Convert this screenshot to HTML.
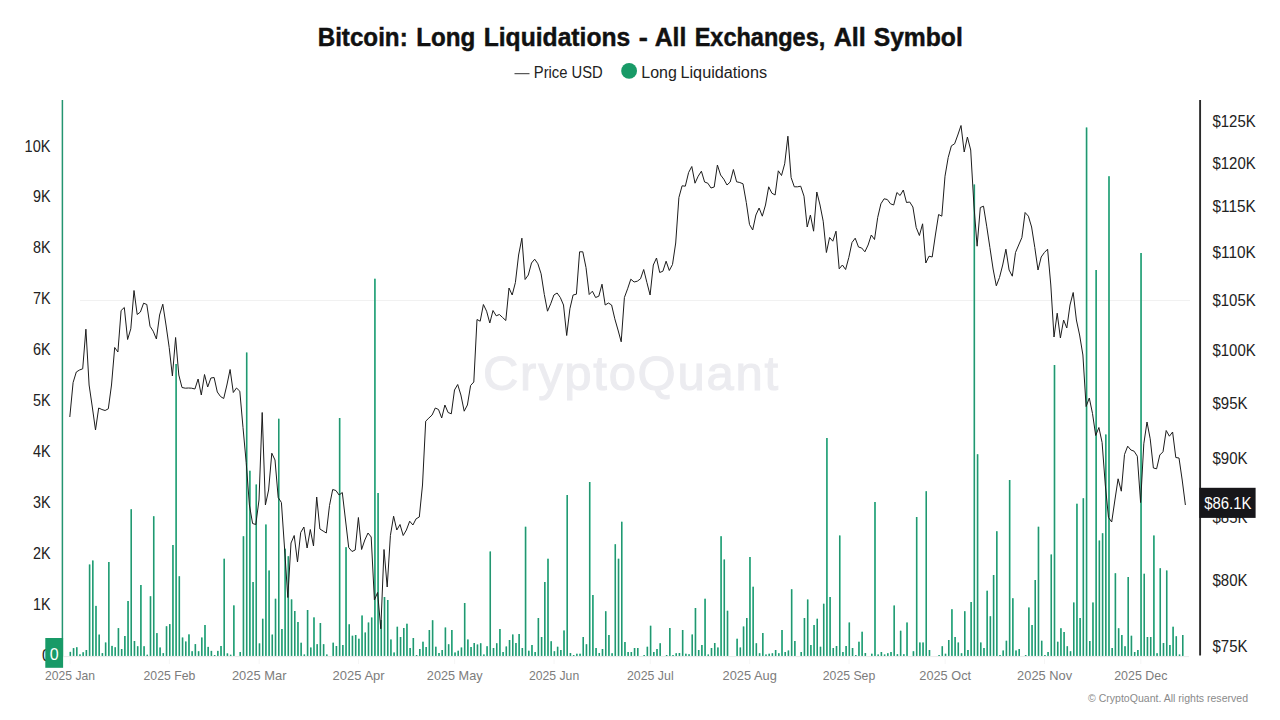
<!DOCTYPE html>
<html lang="en"><head><meta charset="utf-8"><title>Bitcoin: Long Liquidations - All Exchanges, All Symbol</title>
<style>
html,body{margin:0;padding:0;background:#fff;}
body{width:1280px;height:720px;overflow:hidden;font-family:"Liberation Sans",sans-serif;}
svg{display:block;font-family:"Liberation Sans",sans-serif;}
.ttl{font-weight:700;font-size:25.3px;fill:#111;stroke:#111;stroke-width:0.45px;}
.lg{font-size:16px;fill:#222;}
.yl{font-size:16px;fill:#222;}
.xl{font-size:13px;fill:#7c7c7c;}
.wm{font-size:49px;fill:#ececf0;stroke:#ececf0;stroke-width:1.1px;font-weight:400;}
.ft{font-size:11.2px;fill:#8a8a8a;}
</style></head><body>
<svg width="1280" height="720" viewBox="0 0 1280 720">
<rect width="1280" height="720" fill="#fff"/>
<text class="ttl" y="45.6"><tspan x="317.7" textLength="90.0" lengthAdjust="spacingAndGlyphs">Bitcoin:</tspan> <tspan x="416.2" textLength="59.1" lengthAdjust="spacingAndGlyphs">Long</tspan> <tspan x="483.7" textLength="146.6" lengthAdjust="spacingAndGlyphs">Liquidations</tspan> <tspan x="638.7" textLength="9.1" lengthAdjust="spacingAndGlyphs">-</tspan> <tspan x="654.7" textLength="31.6" lengthAdjust="spacingAndGlyphs">All</tspan> <tspan x="694.7" textLength="130.6" lengthAdjust="spacingAndGlyphs">Exchanges,</tspan> <tspan x="833.7" textLength="32.1" lengthAdjust="spacingAndGlyphs">All</tspan> <tspan x="873.7" textLength="89.1" lengthAdjust="spacingAndGlyphs">Symbol</tspan></text>
<line x1="514.5" y1="73.7" x2="529.5" y2="73.7" stroke="#333" stroke-width="1"/>
<text class="lg" x="533.8" y="77.5" textLength="69" lengthAdjust="spacingAndGlyphs">Price USD</text>
<circle cx="629.1" cy="70.9" r="7.9" fill="#189a67"/>
<text class="lg" y="77.5"><tspan x="641.3" textLength="35.5" lengthAdjust="spacingAndGlyphs">Long</tspan> <tspan x="680.5" textLength="86.5" lengthAdjust="spacingAndGlyphs">Liquidations</tspan></text>
<line x1="80" y1="300.5" x2="1190" y2="300.5" stroke="#f1f1f1" stroke-width="1"/>
<text class="wm" x="483" y="390" textLength="295" lengthAdjust="spacing">CryptoQuant</text>
<text class="yl" x="50.5" y="151.50" text-anchor="end" textLength="25.9" lengthAdjust="spacingAndGlyphs">10K</text>
<text class="yl" x="50.5" y="202.40" text-anchor="end" textLength="17.6" lengthAdjust="spacingAndGlyphs">9K</text>
<text class="yl" x="50.5" y="253.40" text-anchor="end" textLength="17.6" lengthAdjust="spacingAndGlyphs">8K</text>
<text class="yl" x="50.5" y="304.30" text-anchor="end" textLength="17.6" lengthAdjust="spacingAndGlyphs">7K</text>
<text class="yl" x="50.5" y="355.20" text-anchor="end" textLength="17.6" lengthAdjust="spacingAndGlyphs">6K</text>
<text class="yl" x="50.5" y="406.20" text-anchor="end" textLength="17.6" lengthAdjust="spacingAndGlyphs">5K</text>
<text class="yl" x="50.5" y="457.10" text-anchor="end" textLength="17.6" lengthAdjust="spacingAndGlyphs">4K</text>
<text class="yl" x="50.5" y="508.00" text-anchor="end" textLength="17.6" lengthAdjust="spacingAndGlyphs">3K</text>
<text class="yl" x="50.5" y="559.00" text-anchor="end" textLength="17.6" lengthAdjust="spacingAndGlyphs">2K</text>
<text class="yl" x="50.5" y="609.90" text-anchor="end" textLength="17.6" lengthAdjust="spacingAndGlyphs">1K</text>
<text class="yl" x="50.5" y="660.80" text-anchor="end" textLength="8.4" lengthAdjust="spacingAndGlyphs">0</text>
<text class="yl" x="1212.5" y="126.50" textLength="43.2" lengthAdjust="spacingAndGlyphs">$125K</text>
<text class="yl" x="1212.5" y="168.90" textLength="43.2" lengthAdjust="spacingAndGlyphs">$120K</text>
<text class="yl" x="1212.5" y="211.90" textLength="43.2" lengthAdjust="spacingAndGlyphs">$115K</text>
<text class="yl" x="1212.5" y="257.90" textLength="43.2" lengthAdjust="spacingAndGlyphs">$110K</text>
<text class="yl" x="1212.5" y="305.90" textLength="43.2" lengthAdjust="spacingAndGlyphs">$105K</text>
<text class="yl" x="1212.5" y="355.90" textLength="43.2" lengthAdjust="spacingAndGlyphs">$100K</text>
<text class="yl" x="1212.5" y="408.90" textLength="35.0" lengthAdjust="spacingAndGlyphs">$95K</text>
<text class="yl" x="1212.5" y="463.90" textLength="35.0" lengthAdjust="spacingAndGlyphs">$90K</text>
<text class="yl" x="1212.5" y="523.30" textLength="35.0" lengthAdjust="spacingAndGlyphs">$85K</text>
<text class="yl" x="1212.5" y="585.90" textLength="35.0" lengthAdjust="spacingAndGlyphs">$80K</text>
<text class="yl" x="1212.5" y="651.90" textLength="35.0" lengthAdjust="spacingAndGlyphs">$75K</text>
<line x1="70.0" y1="658.5" x2="70.0" y2="664" stroke="#f6f6f6" stroke-width="1"/><text class="xl" x="70.0" y="680" text-anchor="middle" textLength="50.0" lengthAdjust="spacingAndGlyphs">2025 Jan</text>
<line x1="169.4" y1="658.5" x2="169.4" y2="664" stroke="#f6f6f6" stroke-width="1"/><text class="xl" x="169.4" y="680" text-anchor="middle" textLength="51.7" lengthAdjust="spacingAndGlyphs">2025 Feb</text>
<line x1="259.2" y1="658.5" x2="259.2" y2="664" stroke="#f6f6f6" stroke-width="1"/><text class="xl" x="259.2" y="680" text-anchor="middle" textLength="54.5" lengthAdjust="spacingAndGlyphs">2025 Mar</text>
<line x1="358.6" y1="658.5" x2="358.6" y2="664" stroke="#f6f6f6" stroke-width="1"/><text class="xl" x="358.6" y="680" text-anchor="middle" textLength="52.0" lengthAdjust="spacingAndGlyphs">2025 Apr</text>
<line x1="454.7" y1="658.5" x2="454.7" y2="664" stroke="#f6f6f6" stroke-width="1"/><text class="xl" x="454.7" y="680" text-anchor="middle" textLength="55.7" lengthAdjust="spacingAndGlyphs">2025 May</text>
<line x1="554.1" y1="658.5" x2="554.1" y2="664" stroke="#f6f6f6" stroke-width="1"/><text class="xl" x="554.1" y="680" text-anchor="middle" textLength="50.2" lengthAdjust="spacingAndGlyphs">2025 Jun</text>
<line x1="650.3" y1="658.5" x2="650.3" y2="664" stroke="#f6f6f6" stroke-width="1"/><text class="xl" x="650.3" y="680" text-anchor="middle" textLength="46.7" lengthAdjust="spacingAndGlyphs">2025 Jul</text>
<line x1="749.7" y1="658.5" x2="749.7" y2="664" stroke="#f6f6f6" stroke-width="1"/><text class="xl" x="749.7" y="680" text-anchor="middle" textLength="54.2" lengthAdjust="spacingAndGlyphs">2025 Aug</text>
<line x1="849.0" y1="658.5" x2="849.0" y2="664" stroke="#f6f6f6" stroke-width="1"/><text class="xl" x="849.0" y="680" text-anchor="middle" textLength="52.5" lengthAdjust="spacingAndGlyphs">2025 Sep</text>
<line x1="945.2" y1="658.5" x2="945.2" y2="664" stroke="#f6f6f6" stroke-width="1"/><text class="xl" x="945.2" y="680" text-anchor="middle" textLength="51.7" lengthAdjust="spacingAndGlyphs">2025 Oct</text>
<line x1="1044.6" y1="658.5" x2="1044.6" y2="664" stroke="#f6f6f6" stroke-width="1"/><text class="xl" x="1044.6" y="680" text-anchor="middle" textLength="55.0" lengthAdjust="spacingAndGlyphs">2025 Nov</text>
<line x1="1140.8" y1="658.5" x2="1140.8" y2="664" stroke="#f6f6f6" stroke-width="1"/><text class="xl" x="1140.8" y="680" text-anchor="middle" textLength="53.2" lengthAdjust="spacingAndGlyphs">2025 Dec</text>
<defs><filter id="hb" x="0" y="0" width="1280" height="720" filterUnits="userSpaceOnUse"><feGaussianBlur stdDeviation="0.65 0.4"/></filter></defs>
<g fill="#66ecbe" filter="url(#hb)">
<rect x="69.62" y="651.90" width="1.45" height="4.00"/><rect x="72.83" y="648.10" width="1.45" height="7.80"/><rect x="76.04" y="647.25" width="1.45" height="8.65"/><rect x="79.24" y="654.40" width="1.45" height="1.50"/><rect x="82.45" y="652.25" width="1.45" height="3.65"/><rect x="85.65" y="650.00" width="1.45" height="5.90"/><rect x="88.86" y="564.50" width="1.45" height="91.40"/><rect x="92.06" y="560.50" width="1.45" height="95.40"/><rect x="95.27" y="605.90" width="1.45" height="50.00"/><rect x="98.48" y="634.60" width="1.45" height="21.30"/><rect x="101.68" y="653.10" width="1.45" height="2.80"/><rect x="104.89" y="642.50" width="1.45" height="13.40"/><rect x="108.09" y="562.00" width="1.45" height="93.90"/><rect x="111.30" y="645.90" width="1.45" height="10.00"/><rect x="114.50" y="647.25" width="1.45" height="8.65"/><rect x="117.71" y="628.10" width="1.45" height="27.80"/><rect x="120.92" y="649.00" width="1.45" height="6.90"/><rect x="124.12" y="636.00" width="1.45" height="19.90"/><rect x="127.33" y="601.00" width="1.45" height="54.90"/><rect x="130.53" y="509.25" width="1.45" height="146.65"/><rect x="133.74" y="641.00" width="1.45" height="14.90"/><rect x="136.94" y="646.25" width="1.45" height="9.65"/><rect x="140.15" y="585.00" width="1.45" height="70.90"/><rect x="143.36" y="646.25" width="1.45" height="9.65"/><rect x="146.56" y="654.75" width="1.45" height="1.15"/><rect x="149.77" y="596.25" width="1.45" height="59.65"/><rect x="152.97" y="516.25" width="1.45" height="139.65"/><rect x="156.18" y="633.10" width="1.45" height="22.80"/><rect x="159.38" y="647.50" width="1.45" height="8.40"/><rect x="162.59" y="653.10" width="1.45" height="2.80"/><rect x="165.80" y="626.25" width="1.45" height="29.65"/><rect x="169.00" y="624.10" width="1.45" height="31.80"/><rect x="172.21" y="545.00" width="1.45" height="110.90"/><rect x="175.41" y="364.00" width="1.45" height="291.90"/><rect x="178.62" y="576.25" width="1.45" height="79.65"/><rect x="181.82" y="637.50" width="1.45" height="18.40"/><rect x="185.03" y="641.50" width="1.45" height="14.40"/><rect x="188.24" y="634.40" width="1.45" height="21.50"/><rect x="191.44" y="651.25" width="1.45" height="4.65"/><rect x="194.65" y="644.10" width="1.45" height="11.80"/><rect x="197.85" y="651.25" width="1.45" height="4.65"/><rect x="201.06" y="637.50" width="1.45" height="18.40"/><rect x="204.26" y="625.00" width="1.45" height="30.90"/><rect x="207.47" y="646.90" width="1.45" height="9.00"/><rect x="210.68" y="650.90" width="1.45" height="5.00"/><rect x="213.88" y="655.00" width="1.45" height="0.90"/><rect x="217.09" y="650.90" width="1.45" height="5.00"/><rect x="220.29" y="646.00" width="1.45" height="9.90"/><rect x="223.50" y="558.75" width="1.45" height="97.15"/><rect x="226.70" y="653.40" width="1.45" height="2.50"/><rect x="229.91" y="654.75" width="1.45" height="1.15"/><rect x="233.12" y="605.40" width="1.45" height="50.50"/><rect x="239.53" y="652.00" width="1.45" height="3.90"/><rect x="242.73" y="536.25" width="1.45" height="119.65"/><rect x="245.94" y="352.50" width="1.45" height="303.40"/><rect x="249.14" y="470.75" width="1.45" height="185.15"/><rect x="252.35" y="582.00" width="1.45" height="73.90"/><rect x="255.56" y="484.50" width="1.45" height="171.40"/><rect x="258.76" y="643.40" width="1.45" height="12.50"/><rect x="261.97" y="618.75" width="1.45" height="37.15"/><rect x="265.17" y="524.50" width="1.45" height="131.40"/><rect x="268.38" y="570.50" width="1.45" height="85.40"/><rect x="271.58" y="634.60" width="1.45" height="21.30"/><rect x="274.79" y="598.75" width="1.45" height="57.15"/><rect x="278.00" y="418.75" width="1.45" height="237.15"/><rect x="281.20" y="629.00" width="1.45" height="26.90"/><rect x="284.41" y="548.75" width="1.45" height="107.15"/><rect x="287.61" y="556.25" width="1.45" height="99.65"/><rect x="290.82" y="599.40" width="1.45" height="56.50"/><rect x="294.02" y="611.00" width="1.45" height="44.90"/><rect x="297.23" y="622.00" width="1.45" height="33.90"/><rect x="300.44" y="642.75" width="1.45" height="13.15"/><rect x="303.64" y="654.50" width="1.45" height="1.40"/><rect x="306.85" y="610.00" width="1.45" height="45.90"/><rect x="310.05" y="647.50" width="1.45" height="8.40"/><rect x="313.26" y="617.40" width="1.45" height="38.50"/><rect x="316.46" y="644.20" width="1.45" height="11.70"/><rect x="319.67" y="623.00" width="1.45" height="32.90"/><rect x="322.88" y="644.20" width="1.45" height="11.70"/><rect x="326.08" y="654.50" width="1.45" height="1.40"/><rect x="332.49" y="642.70" width="1.45" height="13.20"/><rect x="335.70" y="646.00" width="1.45" height="9.90"/><rect x="338.90" y="418.00" width="1.45" height="237.90"/><rect x="342.11" y="645.00" width="1.45" height="10.90"/><rect x="345.32" y="547.20" width="1.45" height="108.70"/><rect x="348.52" y="624.30" width="1.45" height="31.60"/><rect x="351.73" y="635.75" width="1.45" height="20.15"/><rect x="354.93" y="635.00" width="1.45" height="20.90"/><rect x="358.14" y="638.75" width="1.45" height="17.15"/><rect x="361.34" y="615.50" width="1.45" height="40.40"/><rect x="364.55" y="632.50" width="1.45" height="23.40"/><rect x="367.76" y="622.50" width="1.45" height="33.40"/><rect x="370.96" y="617.50" width="1.45" height="38.40"/><rect x="374.17" y="278.75" width="1.45" height="377.15"/><rect x="377.37" y="493.00" width="1.45" height="162.90"/><rect x="380.58" y="620.00" width="1.45" height="35.90"/><rect x="383.78" y="597.00" width="1.45" height="58.90"/><rect x="386.99" y="600.00" width="1.45" height="55.90"/><rect x="390.20" y="639.50" width="1.45" height="16.40"/><rect x="393.40" y="652.50" width="1.45" height="3.40"/><rect x="396.61" y="626.75" width="1.45" height="29.15"/><rect x="399.81" y="637.00" width="1.45" height="18.90"/><rect x="403.02" y="628.00" width="1.45" height="27.90"/><rect x="406.22" y="623.75" width="1.45" height="32.15"/><rect x="409.43" y="648.00" width="1.45" height="7.90"/><rect x="412.63" y="638.00" width="1.45" height="17.90"/><rect x="415.84" y="655.00" width="1.45" height="0.90"/><rect x="419.05" y="649.00" width="1.45" height="6.90"/><rect x="422.25" y="641.75" width="1.45" height="14.15"/><rect x="425.46" y="647.00" width="1.45" height="8.90"/><rect x="428.66" y="630.00" width="1.45" height="25.90"/><rect x="431.87" y="620.25" width="1.45" height="35.65"/><rect x="435.07" y="646.75" width="1.45" height="9.15"/><rect x="438.28" y="653.00" width="1.45" height="2.90"/><rect x="441.49" y="650.00" width="1.45" height="5.90"/><rect x="444.69" y="627.50" width="1.45" height="28.40"/><rect x="447.90" y="644.25" width="1.45" height="11.65"/><rect x="451.10" y="630.00" width="1.45" height="25.90"/><rect x="454.31" y="652.50" width="1.45" height="3.40"/><rect x="457.51" y="650.75" width="1.45" height="5.15"/><rect x="460.72" y="647.50" width="1.45" height="8.40"/><rect x="463.93" y="603.00" width="1.45" height="52.90"/><rect x="467.13" y="639.50" width="1.45" height="16.40"/><rect x="470.34" y="647.00" width="1.45" height="8.90"/><rect x="473.54" y="643.00" width="1.45" height="12.90"/><rect x="476.75" y="644.50" width="1.45" height="11.40"/><rect x="479.95" y="643.25" width="1.45" height="12.65"/><rect x="483.16" y="654.50" width="1.45" height="1.40"/><rect x="486.37" y="646.25" width="1.45" height="9.65"/><rect x="489.57" y="551.50" width="1.45" height="104.40"/><rect x="492.78" y="648.00" width="1.45" height="7.90"/><rect x="495.98" y="643.25" width="1.45" height="12.65"/><rect x="499.19" y="629.00" width="1.45" height="26.90"/><rect x="502.39" y="652.00" width="1.45" height="3.90"/><rect x="505.60" y="646.50" width="1.45" height="9.40"/><rect x="508.81" y="640.00" width="1.45" height="15.90"/><rect x="512.01" y="634.50" width="1.45" height="21.40"/><rect x="515.22" y="643.00" width="1.45" height="12.90"/><rect x="518.42" y="634.00" width="1.45" height="21.90"/><rect x="521.63" y="648.00" width="1.45" height="7.90"/><rect x="524.83" y="526.75" width="1.45" height="129.15"/><rect x="528.04" y="650.75" width="1.45" height="5.15"/><rect x="531.25" y="645.00" width="1.45" height="10.90"/><rect x="534.45" y="652.00" width="1.45" height="3.90"/><rect x="537.66" y="618.00" width="1.45" height="37.90"/><rect x="540.86" y="637.00" width="1.45" height="18.90"/><rect x="544.07" y="582.00" width="1.45" height="73.90"/><rect x="547.27" y="558.75" width="1.45" height="97.15"/><rect x="550.48" y="641.25" width="1.45" height="14.65"/><rect x="553.69" y="651.25" width="1.45" height="4.65"/><rect x="556.89" y="646.75" width="1.45" height="9.15"/><rect x="560.10" y="650.00" width="1.45" height="5.90"/><rect x="563.30" y="630.50" width="1.45" height="25.40"/><rect x="566.51" y="495.00" width="1.45" height="160.90"/><rect x="569.71" y="653.00" width="1.45" height="2.90"/><rect x="572.92" y="655.00" width="1.45" height="0.90"/><rect x="576.13" y="653.75" width="1.45" height="2.15"/><rect x="579.33" y="653.75" width="1.45" height="2.15"/><rect x="582.54" y="637.00" width="1.45" height="18.90"/><rect x="585.74" y="644.25" width="1.45" height="11.65"/><rect x="588.95" y="482.00" width="1.45" height="173.90"/><rect x="592.15" y="595.00" width="1.45" height="60.90"/><rect x="595.36" y="648.00" width="1.45" height="7.90"/><rect x="598.57" y="653.00" width="1.45" height="2.90"/><rect x="601.77" y="649.00" width="1.45" height="6.90"/><rect x="604.98" y="611.25" width="1.45" height="44.65"/><rect x="608.18" y="635.00" width="1.45" height="20.90"/><rect x="611.39" y="653.25" width="1.45" height="2.65"/><rect x="614.59" y="544.25" width="1.45" height="111.65"/><rect x="617.80" y="558.75" width="1.45" height="97.15"/><rect x="621.01" y="521.75" width="1.45" height="134.15"/><rect x="624.21" y="642.00" width="1.45" height="13.90"/><rect x="627.42" y="652.00" width="1.45" height="3.90"/><rect x="630.62" y="652.00" width="1.45" height="3.90"/><rect x="633.83" y="648.00" width="1.45" height="7.90"/><rect x="637.03" y="648.00" width="1.45" height="7.90"/><rect x="643.45" y="655.00" width="1.45" height="0.90"/><rect x="646.65" y="646.75" width="1.45" height="9.15"/><rect x="649.86" y="625.75" width="1.45" height="30.15"/><rect x="653.06" y="652.00" width="1.45" height="3.90"/><rect x="656.27" y="649.00" width="1.45" height="6.90"/><rect x="659.47" y="643.25" width="1.45" height="12.65"/><rect x="665.89" y="655.00" width="1.45" height="0.90"/><rect x="669.09" y="628.00" width="1.45" height="27.90"/><rect x="672.30" y="655.00" width="1.45" height="0.90"/><rect x="675.50" y="653.25" width="1.45" height="2.65"/><rect x="678.71" y="653.00" width="1.45" height="2.90"/><rect x="681.91" y="630.00" width="1.45" height="25.90"/><rect x="685.12" y="653.75" width="1.45" height="2.15"/><rect x="688.33" y="654.25" width="1.45" height="1.65"/><rect x="691.53" y="634.50" width="1.45" height="21.40"/><rect x="694.74" y="608.00" width="1.45" height="47.90"/><rect x="697.94" y="650.00" width="1.45" height="5.90"/><rect x="701.15" y="645.00" width="1.45" height="10.90"/><rect x="704.35" y="598.75" width="1.45" height="57.15"/><rect x="707.56" y="654.50" width="1.45" height="1.40"/><rect x="710.77" y="648.00" width="1.45" height="7.90"/><rect x="713.97" y="643.00" width="1.45" height="12.90"/><rect x="717.18" y="647.50" width="1.45" height="8.40"/><rect x="720.38" y="536.25" width="1.45" height="119.65"/><rect x="723.59" y="559.50" width="1.45" height="96.40"/><rect x="726.79" y="610.75" width="1.45" height="45.15"/><rect x="736.41" y="638.75" width="1.45" height="17.15"/><rect x="739.62" y="647.50" width="1.45" height="8.40"/><rect x="742.82" y="626.50" width="1.45" height="29.40"/><rect x="746.03" y="618.00" width="1.45" height="37.90"/><rect x="749.23" y="557.00" width="1.45" height="98.90"/><rect x="752.44" y="586.75" width="1.45" height="69.15"/><rect x="755.64" y="643.25" width="1.45" height="12.65"/><rect x="758.85" y="653.25" width="1.45" height="2.65"/><rect x="762.06" y="633.00" width="1.45" height="22.90"/><rect x="765.26" y="654.50" width="1.45" height="1.40"/><rect x="768.47" y="653.75" width="1.45" height="2.15"/><rect x="771.67" y="653.25" width="1.45" height="2.65"/><rect x="774.88" y="650.00" width="1.45" height="5.90"/><rect x="778.08" y="653.25" width="1.45" height="2.65"/><rect x="781.29" y="630.00" width="1.45" height="25.90"/><rect x="784.50" y="652.00" width="1.45" height="3.90"/><rect x="787.70" y="650.50" width="1.45" height="5.40"/><rect x="790.91" y="589.25" width="1.45" height="66.65"/><rect x="794.11" y="641.00" width="1.45" height="14.90"/><rect x="800.52" y="652.00" width="1.45" height="3.90"/><rect x="803.73" y="618.00" width="1.45" height="37.90"/><rect x="806.94" y="599.50" width="1.45" height="56.40"/><rect x="810.14" y="645.00" width="1.45" height="10.90"/><rect x="813.35" y="625.00" width="1.45" height="30.90"/><rect x="816.55" y="618.75" width="1.45" height="37.15"/><rect x="819.76" y="646.75" width="1.45" height="9.15"/><rect x="822.96" y="603.75" width="1.45" height="52.15"/><rect x="826.17" y="438.00" width="1.45" height="217.90"/><rect x="829.38" y="597.00" width="1.45" height="58.90"/><rect x="832.58" y="648.00" width="1.45" height="7.90"/><rect x="835.79" y="646.00" width="1.45" height="9.90"/><rect x="838.99" y="535.50" width="1.45" height="120.40"/><rect x="842.20" y="652.00" width="1.45" height="3.90"/><rect x="845.40" y="646.00" width="1.45" height="9.90"/><rect x="848.61" y="622.50" width="1.45" height="33.40"/><rect x="851.82" y="648.00" width="1.45" height="7.90"/><rect x="855.02" y="655.00" width="1.45" height="0.90"/><rect x="858.23" y="641.75" width="1.45" height="14.15"/><rect x="861.43" y="631.75" width="1.45" height="24.15"/><rect x="864.64" y="653.00" width="1.45" height="2.90"/><rect x="871.05" y="653.75" width="1.45" height="2.15"/><rect x="874.26" y="502.00" width="1.45" height="153.90"/><rect x="877.46" y="654.50" width="1.45" height="1.40"/><rect x="880.67" y="652.00" width="1.45" height="3.90"/><rect x="883.87" y="654.50" width="1.45" height="1.40"/><rect x="887.08" y="653.25" width="1.45" height="2.65"/><rect x="890.28" y="652.00" width="1.45" height="3.90"/><rect x="893.49" y="605.50" width="1.45" height="50.40"/><rect x="896.70" y="654.25" width="1.45" height="1.65"/><rect x="899.90" y="630.75" width="1.45" height="25.15"/><rect x="903.11" y="654.25" width="1.45" height="1.65"/><rect x="906.31" y="622.50" width="1.45" height="33.40"/><rect x="912.72" y="651.25" width="1.45" height="4.65"/><rect x="915.93" y="517.00" width="1.45" height="138.90"/><rect x="919.14" y="642.50" width="1.45" height="13.40"/><rect x="922.34" y="642.50" width="1.45" height="13.40"/><rect x="925.55" y="491.25" width="1.45" height="164.65"/><rect x="928.75" y="650.00" width="1.45" height="5.90"/><rect x="938.37" y="655.00" width="1.45" height="0.90"/><rect x="941.58" y="646.25" width="1.45" height="9.65"/><rect x="944.78" y="653.75" width="1.45" height="2.15"/><rect x="947.99" y="640.00" width="1.45" height="15.90"/><rect x="951.19" y="609.25" width="1.45" height="46.65"/><rect x="954.40" y="637.00" width="1.45" height="18.90"/><rect x="957.60" y="642.50" width="1.45" height="13.40"/><rect x="960.81" y="653.25" width="1.45" height="2.65"/><rect x="964.02" y="611.25" width="1.45" height="44.65"/><rect x="967.22" y="650.00" width="1.45" height="5.90"/><rect x="970.43" y="602.00" width="1.45" height="53.90"/><rect x="973.63" y="184.50" width="1.45" height="471.40"/><rect x="976.84" y="454.25" width="1.45" height="201.65"/><rect x="980.04" y="642.50" width="1.45" height="13.40"/><rect x="983.25" y="648.00" width="1.45" height="7.90"/><rect x="986.46" y="590.75" width="1.45" height="65.15"/><rect x="989.66" y="616.25" width="1.45" height="39.65"/><rect x="992.87" y="575.00" width="1.45" height="80.90"/><rect x="996.07" y="531.25" width="1.45" height="124.65"/><rect x="999.28" y="655.00" width="1.45" height="0.90"/><rect x="1002.48" y="650.50" width="1.45" height="5.40"/><rect x="1005.69" y="640.75" width="1.45" height="15.15"/><rect x="1008.90" y="480.00" width="1.45" height="175.90"/><rect x="1012.10" y="598.25" width="1.45" height="57.65"/><rect x="1015.31" y="650.50" width="1.45" height="5.40"/><rect x="1018.51" y="649.00" width="1.45" height="6.90"/><rect x="1024.92" y="655.00" width="1.45" height="0.90"/><rect x="1028.13" y="607.50" width="1.45" height="48.40"/><rect x="1031.34" y="625.00" width="1.45" height="30.90"/><rect x="1034.54" y="580.00" width="1.45" height="75.90"/><rect x="1037.75" y="526.75" width="1.45" height="129.15"/><rect x="1040.95" y="640.75" width="1.45" height="15.15"/><rect x="1044.16" y="655.00" width="1.45" height="0.90"/><rect x="1047.36" y="652.00" width="1.45" height="3.90"/><rect x="1050.57" y="554.50" width="1.45" height="101.40"/><rect x="1053.77" y="365.00" width="1.45" height="290.90"/><rect x="1056.98" y="641.75" width="1.45" height="14.15"/><rect x="1060.19" y="628.25" width="1.45" height="27.65"/><rect x="1063.39" y="632.00" width="1.45" height="23.90"/><rect x="1066.60" y="646.25" width="1.45" height="9.65"/><rect x="1069.80" y="651.25" width="1.45" height="4.65"/><rect x="1073.01" y="602.50" width="1.45" height="53.40"/><rect x="1076.21" y="503.75" width="1.45" height="152.15"/><rect x="1079.42" y="618.00" width="1.45" height="37.90"/><rect x="1082.63" y="498.25" width="1.45" height="157.65"/><rect x="1085.83" y="127.50" width="1.45" height="528.40"/><rect x="1089.04" y="641.00" width="1.45" height="14.90"/><rect x="1092.24" y="602.50" width="1.45" height="53.40"/><rect x="1095.45" y="270.00" width="1.45" height="385.90"/><rect x="1098.65" y="540.50" width="1.45" height="115.40"/><rect x="1101.86" y="533.25" width="1.45" height="122.65"/><rect x="1105.07" y="434.50" width="1.45" height="221.40"/><rect x="1108.27" y="176.25" width="1.45" height="479.65"/><rect x="1111.48" y="648.00" width="1.45" height="7.90"/><rect x="1114.68" y="573.25" width="1.45" height="82.65"/><rect x="1117.89" y="628.25" width="1.45" height="27.65"/><rect x="1121.09" y="635.00" width="1.45" height="20.90"/><rect x="1124.30" y="646.25" width="1.45" height="9.65"/><rect x="1127.51" y="577.00" width="1.45" height="78.90"/><rect x="1130.71" y="635.75" width="1.45" height="20.15"/><rect x="1133.92" y="652.00" width="1.45" height="3.90"/><rect x="1137.12" y="650.00" width="1.45" height="5.90"/><rect x="1140.33" y="253.00" width="1.45" height="402.90"/><rect x="1143.53" y="573.75" width="1.45" height="82.15"/><rect x="1146.74" y="637.00" width="1.45" height="18.90"/><rect x="1149.95" y="637.00" width="1.45" height="18.90"/><rect x="1153.15" y="535.50" width="1.45" height="120.40"/><rect x="1156.36" y="653.25" width="1.45" height="2.65"/><rect x="1159.56" y="568.25" width="1.45" height="87.65"/><rect x="1162.77" y="643.00" width="1.45" height="12.90"/><rect x="1165.97" y="570.50" width="1.45" height="85.40"/><rect x="1169.18" y="645.00" width="1.45" height="10.90"/><rect x="1172.39" y="626.75" width="1.45" height="29.15"/><rect x="1175.59" y="636.25" width="1.45" height="19.65"/><rect x="1178.80" y="654.50" width="1.45" height="1.40"/><rect x="1182.00" y="635.00" width="1.45" height="20.90"/>
</g>
<g fill="#249570">
<rect x="69.62" y="651.90" width="1.45" height="4.00"/><rect x="72.83" y="648.10" width="1.45" height="7.80"/><rect x="76.04" y="647.25" width="1.45" height="8.65"/><rect x="79.24" y="654.40" width="1.45" height="1.50"/><rect x="82.45" y="652.25" width="1.45" height="3.65"/><rect x="85.65" y="650.00" width="1.45" height="5.90"/><rect x="88.86" y="564.50" width="1.45" height="91.40"/><rect x="92.06" y="560.50" width="1.45" height="95.40"/><rect x="95.27" y="605.90" width="1.45" height="50.00"/><rect x="98.48" y="634.60" width="1.45" height="21.30"/><rect x="101.68" y="653.10" width="1.45" height="2.80"/><rect x="104.89" y="642.50" width="1.45" height="13.40"/><rect x="108.09" y="562.00" width="1.45" height="93.90"/><rect x="111.30" y="645.90" width="1.45" height="10.00"/><rect x="114.50" y="647.25" width="1.45" height="8.65"/><rect x="117.71" y="628.10" width="1.45" height="27.80"/><rect x="120.92" y="649.00" width="1.45" height="6.90"/><rect x="124.12" y="636.00" width="1.45" height="19.90"/><rect x="127.33" y="601.00" width="1.45" height="54.90"/><rect x="130.53" y="509.25" width="1.45" height="146.65"/><rect x="133.74" y="641.00" width="1.45" height="14.90"/><rect x="136.94" y="646.25" width="1.45" height="9.65"/><rect x="140.15" y="585.00" width="1.45" height="70.90"/><rect x="143.36" y="646.25" width="1.45" height="9.65"/><rect x="146.56" y="654.75" width="1.45" height="1.15"/><rect x="149.77" y="596.25" width="1.45" height="59.65"/><rect x="152.97" y="516.25" width="1.45" height="139.65"/><rect x="156.18" y="633.10" width="1.45" height="22.80"/><rect x="159.38" y="647.50" width="1.45" height="8.40"/><rect x="162.59" y="653.10" width="1.45" height="2.80"/><rect x="165.80" y="626.25" width="1.45" height="29.65"/><rect x="169.00" y="624.10" width="1.45" height="31.80"/><rect x="172.21" y="545.00" width="1.45" height="110.90"/><rect x="175.41" y="364.00" width="1.45" height="291.90"/><rect x="178.62" y="576.25" width="1.45" height="79.65"/><rect x="181.82" y="637.50" width="1.45" height="18.40"/><rect x="185.03" y="641.50" width="1.45" height="14.40"/><rect x="188.24" y="634.40" width="1.45" height="21.50"/><rect x="191.44" y="651.25" width="1.45" height="4.65"/><rect x="194.65" y="644.10" width="1.45" height="11.80"/><rect x="197.85" y="651.25" width="1.45" height="4.65"/><rect x="201.06" y="637.50" width="1.45" height="18.40"/><rect x="204.26" y="625.00" width="1.45" height="30.90"/><rect x="207.47" y="646.90" width="1.45" height="9.00"/><rect x="210.68" y="650.90" width="1.45" height="5.00"/><rect x="213.88" y="655.00" width="1.45" height="0.90"/><rect x="217.09" y="650.90" width="1.45" height="5.00"/><rect x="220.29" y="646.00" width="1.45" height="9.90"/><rect x="223.50" y="558.75" width="1.45" height="97.15"/><rect x="226.70" y="653.40" width="1.45" height="2.50"/><rect x="229.91" y="654.75" width="1.45" height="1.15"/><rect x="233.12" y="605.40" width="1.45" height="50.50"/><rect x="239.53" y="652.00" width="1.45" height="3.90"/><rect x="242.73" y="536.25" width="1.45" height="119.65"/><rect x="245.94" y="352.50" width="1.45" height="303.40"/><rect x="249.14" y="470.75" width="1.45" height="185.15"/><rect x="252.35" y="582.00" width="1.45" height="73.90"/><rect x="255.56" y="484.50" width="1.45" height="171.40"/><rect x="258.76" y="643.40" width="1.45" height="12.50"/><rect x="261.97" y="618.75" width="1.45" height="37.15"/><rect x="265.17" y="524.50" width="1.45" height="131.40"/><rect x="268.38" y="570.50" width="1.45" height="85.40"/><rect x="271.58" y="634.60" width="1.45" height="21.30"/><rect x="274.79" y="598.75" width="1.45" height="57.15"/><rect x="278.00" y="418.75" width="1.45" height="237.15"/><rect x="281.20" y="629.00" width="1.45" height="26.90"/><rect x="284.41" y="548.75" width="1.45" height="107.15"/><rect x="287.61" y="556.25" width="1.45" height="99.65"/><rect x="290.82" y="599.40" width="1.45" height="56.50"/><rect x="294.02" y="611.00" width="1.45" height="44.90"/><rect x="297.23" y="622.00" width="1.45" height="33.90"/><rect x="300.44" y="642.75" width="1.45" height="13.15"/><rect x="303.64" y="654.50" width="1.45" height="1.40"/><rect x="306.85" y="610.00" width="1.45" height="45.90"/><rect x="310.05" y="647.50" width="1.45" height="8.40"/><rect x="313.26" y="617.40" width="1.45" height="38.50"/><rect x="316.46" y="644.20" width="1.45" height="11.70"/><rect x="319.67" y="623.00" width="1.45" height="32.90"/><rect x="322.88" y="644.20" width="1.45" height="11.70"/><rect x="326.08" y="654.50" width="1.45" height="1.40"/><rect x="332.49" y="642.70" width="1.45" height="13.20"/><rect x="335.70" y="646.00" width="1.45" height="9.90"/><rect x="338.90" y="418.00" width="1.45" height="237.90"/><rect x="342.11" y="645.00" width="1.45" height="10.90"/><rect x="345.32" y="547.20" width="1.45" height="108.70"/><rect x="348.52" y="624.30" width="1.45" height="31.60"/><rect x="351.73" y="635.75" width="1.45" height="20.15"/><rect x="354.93" y="635.00" width="1.45" height="20.90"/><rect x="358.14" y="638.75" width="1.45" height="17.15"/><rect x="361.34" y="615.50" width="1.45" height="40.40"/><rect x="364.55" y="632.50" width="1.45" height="23.40"/><rect x="367.76" y="622.50" width="1.45" height="33.40"/><rect x="370.96" y="617.50" width="1.45" height="38.40"/><rect x="374.17" y="278.75" width="1.45" height="377.15"/><rect x="377.37" y="493.00" width="1.45" height="162.90"/><rect x="380.58" y="620.00" width="1.45" height="35.90"/><rect x="383.78" y="597.00" width="1.45" height="58.90"/><rect x="386.99" y="600.00" width="1.45" height="55.90"/><rect x="390.20" y="639.50" width="1.45" height="16.40"/><rect x="393.40" y="652.50" width="1.45" height="3.40"/><rect x="396.61" y="626.75" width="1.45" height="29.15"/><rect x="399.81" y="637.00" width="1.45" height="18.90"/><rect x="403.02" y="628.00" width="1.45" height="27.90"/><rect x="406.22" y="623.75" width="1.45" height="32.15"/><rect x="409.43" y="648.00" width="1.45" height="7.90"/><rect x="412.63" y="638.00" width="1.45" height="17.90"/><rect x="415.84" y="655.00" width="1.45" height="0.90"/><rect x="419.05" y="649.00" width="1.45" height="6.90"/><rect x="422.25" y="641.75" width="1.45" height="14.15"/><rect x="425.46" y="647.00" width="1.45" height="8.90"/><rect x="428.66" y="630.00" width="1.45" height="25.90"/><rect x="431.87" y="620.25" width="1.45" height="35.65"/><rect x="435.07" y="646.75" width="1.45" height="9.15"/><rect x="438.28" y="653.00" width="1.45" height="2.90"/><rect x="441.49" y="650.00" width="1.45" height="5.90"/><rect x="444.69" y="627.50" width="1.45" height="28.40"/><rect x="447.90" y="644.25" width="1.45" height="11.65"/><rect x="451.10" y="630.00" width="1.45" height="25.90"/><rect x="454.31" y="652.50" width="1.45" height="3.40"/><rect x="457.51" y="650.75" width="1.45" height="5.15"/><rect x="460.72" y="647.50" width="1.45" height="8.40"/><rect x="463.93" y="603.00" width="1.45" height="52.90"/><rect x="467.13" y="639.50" width="1.45" height="16.40"/><rect x="470.34" y="647.00" width="1.45" height="8.90"/><rect x="473.54" y="643.00" width="1.45" height="12.90"/><rect x="476.75" y="644.50" width="1.45" height="11.40"/><rect x="479.95" y="643.25" width="1.45" height="12.65"/><rect x="483.16" y="654.50" width="1.45" height="1.40"/><rect x="486.37" y="646.25" width="1.45" height="9.65"/><rect x="489.57" y="551.50" width="1.45" height="104.40"/><rect x="492.78" y="648.00" width="1.45" height="7.90"/><rect x="495.98" y="643.25" width="1.45" height="12.65"/><rect x="499.19" y="629.00" width="1.45" height="26.90"/><rect x="502.39" y="652.00" width="1.45" height="3.90"/><rect x="505.60" y="646.50" width="1.45" height="9.40"/><rect x="508.81" y="640.00" width="1.45" height="15.90"/><rect x="512.01" y="634.50" width="1.45" height="21.40"/><rect x="515.22" y="643.00" width="1.45" height="12.90"/><rect x="518.42" y="634.00" width="1.45" height="21.90"/><rect x="521.63" y="648.00" width="1.45" height="7.90"/><rect x="524.83" y="526.75" width="1.45" height="129.15"/><rect x="528.04" y="650.75" width="1.45" height="5.15"/><rect x="531.25" y="645.00" width="1.45" height="10.90"/><rect x="534.45" y="652.00" width="1.45" height="3.90"/><rect x="537.66" y="618.00" width="1.45" height="37.90"/><rect x="540.86" y="637.00" width="1.45" height="18.90"/><rect x="544.07" y="582.00" width="1.45" height="73.90"/><rect x="547.27" y="558.75" width="1.45" height="97.15"/><rect x="550.48" y="641.25" width="1.45" height="14.65"/><rect x="553.69" y="651.25" width="1.45" height="4.65"/><rect x="556.89" y="646.75" width="1.45" height="9.15"/><rect x="560.10" y="650.00" width="1.45" height="5.90"/><rect x="563.30" y="630.50" width="1.45" height="25.40"/><rect x="566.51" y="495.00" width="1.45" height="160.90"/><rect x="569.71" y="653.00" width="1.45" height="2.90"/><rect x="572.92" y="655.00" width="1.45" height="0.90"/><rect x="576.13" y="653.75" width="1.45" height="2.15"/><rect x="579.33" y="653.75" width="1.45" height="2.15"/><rect x="582.54" y="637.00" width="1.45" height="18.90"/><rect x="585.74" y="644.25" width="1.45" height="11.65"/><rect x="588.95" y="482.00" width="1.45" height="173.90"/><rect x="592.15" y="595.00" width="1.45" height="60.90"/><rect x="595.36" y="648.00" width="1.45" height="7.90"/><rect x="598.57" y="653.00" width="1.45" height="2.90"/><rect x="601.77" y="649.00" width="1.45" height="6.90"/><rect x="604.98" y="611.25" width="1.45" height="44.65"/><rect x="608.18" y="635.00" width="1.45" height="20.90"/><rect x="611.39" y="653.25" width="1.45" height="2.65"/><rect x="614.59" y="544.25" width="1.45" height="111.65"/><rect x="617.80" y="558.75" width="1.45" height="97.15"/><rect x="621.01" y="521.75" width="1.45" height="134.15"/><rect x="624.21" y="642.00" width="1.45" height="13.90"/><rect x="627.42" y="652.00" width="1.45" height="3.90"/><rect x="630.62" y="652.00" width="1.45" height="3.90"/><rect x="633.83" y="648.00" width="1.45" height="7.90"/><rect x="637.03" y="648.00" width="1.45" height="7.90"/><rect x="643.45" y="655.00" width="1.45" height="0.90"/><rect x="646.65" y="646.75" width="1.45" height="9.15"/><rect x="649.86" y="625.75" width="1.45" height="30.15"/><rect x="653.06" y="652.00" width="1.45" height="3.90"/><rect x="656.27" y="649.00" width="1.45" height="6.90"/><rect x="659.47" y="643.25" width="1.45" height="12.65"/><rect x="665.89" y="655.00" width="1.45" height="0.90"/><rect x="669.09" y="628.00" width="1.45" height="27.90"/><rect x="672.30" y="655.00" width="1.45" height="0.90"/><rect x="675.50" y="653.25" width="1.45" height="2.65"/><rect x="678.71" y="653.00" width="1.45" height="2.90"/><rect x="681.91" y="630.00" width="1.45" height="25.90"/><rect x="685.12" y="653.75" width="1.45" height="2.15"/><rect x="688.33" y="654.25" width="1.45" height="1.65"/><rect x="691.53" y="634.50" width="1.45" height="21.40"/><rect x="694.74" y="608.00" width="1.45" height="47.90"/><rect x="697.94" y="650.00" width="1.45" height="5.90"/><rect x="701.15" y="645.00" width="1.45" height="10.90"/><rect x="704.35" y="598.75" width="1.45" height="57.15"/><rect x="707.56" y="654.50" width="1.45" height="1.40"/><rect x="710.77" y="648.00" width="1.45" height="7.90"/><rect x="713.97" y="643.00" width="1.45" height="12.90"/><rect x="717.18" y="647.50" width="1.45" height="8.40"/><rect x="720.38" y="536.25" width="1.45" height="119.65"/><rect x="723.59" y="559.50" width="1.45" height="96.40"/><rect x="726.79" y="610.75" width="1.45" height="45.15"/><rect x="736.41" y="638.75" width="1.45" height="17.15"/><rect x="739.62" y="647.50" width="1.45" height="8.40"/><rect x="742.82" y="626.50" width="1.45" height="29.40"/><rect x="746.03" y="618.00" width="1.45" height="37.90"/><rect x="749.23" y="557.00" width="1.45" height="98.90"/><rect x="752.44" y="586.75" width="1.45" height="69.15"/><rect x="755.64" y="643.25" width="1.45" height="12.65"/><rect x="758.85" y="653.25" width="1.45" height="2.65"/><rect x="762.06" y="633.00" width="1.45" height="22.90"/><rect x="765.26" y="654.50" width="1.45" height="1.40"/><rect x="768.47" y="653.75" width="1.45" height="2.15"/><rect x="771.67" y="653.25" width="1.45" height="2.65"/><rect x="774.88" y="650.00" width="1.45" height="5.90"/><rect x="778.08" y="653.25" width="1.45" height="2.65"/><rect x="781.29" y="630.00" width="1.45" height="25.90"/><rect x="784.50" y="652.00" width="1.45" height="3.90"/><rect x="787.70" y="650.50" width="1.45" height="5.40"/><rect x="790.91" y="589.25" width="1.45" height="66.65"/><rect x="794.11" y="641.00" width="1.45" height="14.90"/><rect x="800.52" y="652.00" width="1.45" height="3.90"/><rect x="803.73" y="618.00" width="1.45" height="37.90"/><rect x="806.94" y="599.50" width="1.45" height="56.40"/><rect x="810.14" y="645.00" width="1.45" height="10.90"/><rect x="813.35" y="625.00" width="1.45" height="30.90"/><rect x="816.55" y="618.75" width="1.45" height="37.15"/><rect x="819.76" y="646.75" width="1.45" height="9.15"/><rect x="822.96" y="603.75" width="1.45" height="52.15"/><rect x="826.17" y="438.00" width="1.45" height="217.90"/><rect x="829.38" y="597.00" width="1.45" height="58.90"/><rect x="832.58" y="648.00" width="1.45" height="7.90"/><rect x="835.79" y="646.00" width="1.45" height="9.90"/><rect x="838.99" y="535.50" width="1.45" height="120.40"/><rect x="842.20" y="652.00" width="1.45" height="3.90"/><rect x="845.40" y="646.00" width="1.45" height="9.90"/><rect x="848.61" y="622.50" width="1.45" height="33.40"/><rect x="851.82" y="648.00" width="1.45" height="7.90"/><rect x="855.02" y="655.00" width="1.45" height="0.90"/><rect x="858.23" y="641.75" width="1.45" height="14.15"/><rect x="861.43" y="631.75" width="1.45" height="24.15"/><rect x="864.64" y="653.00" width="1.45" height="2.90"/><rect x="871.05" y="653.75" width="1.45" height="2.15"/><rect x="874.26" y="502.00" width="1.45" height="153.90"/><rect x="877.46" y="654.50" width="1.45" height="1.40"/><rect x="880.67" y="652.00" width="1.45" height="3.90"/><rect x="883.87" y="654.50" width="1.45" height="1.40"/><rect x="887.08" y="653.25" width="1.45" height="2.65"/><rect x="890.28" y="652.00" width="1.45" height="3.90"/><rect x="893.49" y="605.50" width="1.45" height="50.40"/><rect x="896.70" y="654.25" width="1.45" height="1.65"/><rect x="899.90" y="630.75" width="1.45" height="25.15"/><rect x="903.11" y="654.25" width="1.45" height="1.65"/><rect x="906.31" y="622.50" width="1.45" height="33.40"/><rect x="912.72" y="651.25" width="1.45" height="4.65"/><rect x="915.93" y="517.00" width="1.45" height="138.90"/><rect x="919.14" y="642.50" width="1.45" height="13.40"/><rect x="922.34" y="642.50" width="1.45" height="13.40"/><rect x="925.55" y="491.25" width="1.45" height="164.65"/><rect x="928.75" y="650.00" width="1.45" height="5.90"/><rect x="938.37" y="655.00" width="1.45" height="0.90"/><rect x="941.58" y="646.25" width="1.45" height="9.65"/><rect x="944.78" y="653.75" width="1.45" height="2.15"/><rect x="947.99" y="640.00" width="1.45" height="15.90"/><rect x="951.19" y="609.25" width="1.45" height="46.65"/><rect x="954.40" y="637.00" width="1.45" height="18.90"/><rect x="957.60" y="642.50" width="1.45" height="13.40"/><rect x="960.81" y="653.25" width="1.45" height="2.65"/><rect x="964.02" y="611.25" width="1.45" height="44.65"/><rect x="967.22" y="650.00" width="1.45" height="5.90"/><rect x="970.43" y="602.00" width="1.45" height="53.90"/><rect x="973.63" y="184.50" width="1.45" height="471.40"/><rect x="976.84" y="454.25" width="1.45" height="201.65"/><rect x="980.04" y="642.50" width="1.45" height="13.40"/><rect x="983.25" y="648.00" width="1.45" height="7.90"/><rect x="986.46" y="590.75" width="1.45" height="65.15"/><rect x="989.66" y="616.25" width="1.45" height="39.65"/><rect x="992.87" y="575.00" width="1.45" height="80.90"/><rect x="996.07" y="531.25" width="1.45" height="124.65"/><rect x="999.28" y="655.00" width="1.45" height="0.90"/><rect x="1002.48" y="650.50" width="1.45" height="5.40"/><rect x="1005.69" y="640.75" width="1.45" height="15.15"/><rect x="1008.90" y="480.00" width="1.45" height="175.90"/><rect x="1012.10" y="598.25" width="1.45" height="57.65"/><rect x="1015.31" y="650.50" width="1.45" height="5.40"/><rect x="1018.51" y="649.00" width="1.45" height="6.90"/><rect x="1024.92" y="655.00" width="1.45" height="0.90"/><rect x="1028.13" y="607.50" width="1.45" height="48.40"/><rect x="1031.34" y="625.00" width="1.45" height="30.90"/><rect x="1034.54" y="580.00" width="1.45" height="75.90"/><rect x="1037.75" y="526.75" width="1.45" height="129.15"/><rect x="1040.95" y="640.75" width="1.45" height="15.15"/><rect x="1044.16" y="655.00" width="1.45" height="0.90"/><rect x="1047.36" y="652.00" width="1.45" height="3.90"/><rect x="1050.57" y="554.50" width="1.45" height="101.40"/><rect x="1053.77" y="365.00" width="1.45" height="290.90"/><rect x="1056.98" y="641.75" width="1.45" height="14.15"/><rect x="1060.19" y="628.25" width="1.45" height="27.65"/><rect x="1063.39" y="632.00" width="1.45" height="23.90"/><rect x="1066.60" y="646.25" width="1.45" height="9.65"/><rect x="1069.80" y="651.25" width="1.45" height="4.65"/><rect x="1073.01" y="602.50" width="1.45" height="53.40"/><rect x="1076.21" y="503.75" width="1.45" height="152.15"/><rect x="1079.42" y="618.00" width="1.45" height="37.90"/><rect x="1082.63" y="498.25" width="1.45" height="157.65"/><rect x="1085.83" y="127.50" width="1.45" height="528.40"/><rect x="1089.04" y="641.00" width="1.45" height="14.90"/><rect x="1092.24" y="602.50" width="1.45" height="53.40"/><rect x="1095.45" y="270.00" width="1.45" height="385.90"/><rect x="1098.65" y="540.50" width="1.45" height="115.40"/><rect x="1101.86" y="533.25" width="1.45" height="122.65"/><rect x="1105.07" y="434.50" width="1.45" height="221.40"/><rect x="1108.27" y="176.25" width="1.45" height="479.65"/><rect x="1111.48" y="648.00" width="1.45" height="7.90"/><rect x="1114.68" y="573.25" width="1.45" height="82.65"/><rect x="1117.89" y="628.25" width="1.45" height="27.65"/><rect x="1121.09" y="635.00" width="1.45" height="20.90"/><rect x="1124.30" y="646.25" width="1.45" height="9.65"/><rect x="1127.51" y="577.00" width="1.45" height="78.90"/><rect x="1130.71" y="635.75" width="1.45" height="20.15"/><rect x="1133.92" y="652.00" width="1.45" height="3.90"/><rect x="1137.12" y="650.00" width="1.45" height="5.90"/><rect x="1140.33" y="253.00" width="1.45" height="402.90"/><rect x="1143.53" y="573.75" width="1.45" height="82.15"/><rect x="1146.74" y="637.00" width="1.45" height="18.90"/><rect x="1149.95" y="637.00" width="1.45" height="18.90"/><rect x="1153.15" y="535.50" width="1.45" height="120.40"/><rect x="1156.36" y="653.25" width="1.45" height="2.65"/><rect x="1159.56" y="568.25" width="1.45" height="87.65"/><rect x="1162.77" y="643.00" width="1.45" height="12.90"/><rect x="1165.97" y="570.50" width="1.45" height="85.40"/><rect x="1169.18" y="645.00" width="1.45" height="10.90"/><rect x="1172.39" y="626.75" width="1.45" height="29.15"/><rect x="1175.59" y="636.25" width="1.45" height="19.65"/><rect x="1178.80" y="654.50" width="1.45" height="1.40"/><rect x="1182.00" y="635.00" width="1.45" height="20.90"/>
</g>
<line x1="63" y1="656.6" x2="1189" y2="656.6" stroke="#ebebeb" stroke-width="1"/>
<line x1="62.4" y1="100" x2="62.4" y2="655.9" stroke="#249570" stroke-width="1.5"/>
<line x1="1200.1" y1="100" x2="1200.1" y2="655.5" stroke="#2a2a2a" stroke-width="1.9"/>
<polyline points="69.8,417.0 73.1,382.5 76.3,372.0 79.5,370.0 82.7,368.8 85.9,329.2 89.1,385.0 92.3,407.0 95.5,430.0 98.7,408.0 101.9,409.5 105.1,410.5 108.3,408.8 111.5,385.0 114.7,347.5 117.9,352.0 121.1,310.5 124.3,307.5 127.6,339.5 130.8,328.8 134.0,290.5 137.2,314.5 140.4,312.0 143.6,303.2 146.8,304.5 150.0,326.2 153.2,331.2 156.4,339.0 159.6,315.0 162.8,304.2 166.0,325.0 169.2,347.5 172.4,376.0 175.6,337.5 178.8,375.0 182.0,387.5 185.3,388.2 188.5,388.0 191.7,388.2 194.9,389.0 198.1,379.0 201.3,395.0 204.5,374.5 207.7,387.0 210.9,378.0 214.1,377.5 217.3,392.0 220.5,396.5 223.7,398.5 226.9,385.0 230.1,369.5 233.3,392.5 236.5,388.0 239.8,391.2 243.0,427.5 246.2,462.5 249.4,505.0 252.6,523.5 255.8,524.5 259.0,500.0 262.2,412.5 265.4,505.0 268.6,490.0 271.8,453.2 275.0,460.0 278.2,497.5 281.4,502.5 284.6,549.0 287.8,597.5 291.0,543.0 294.2,535.5 297.5,562.0 300.7,532.5 303.9,527.0 307.1,548.0 310.3,529.5 313.5,546.0 316.7,497.0 319.9,529.0 323.1,531.0 326.3,533.0 329.5,505.5 332.7,489.5 335.9,490.5 339.1,495.0 342.3,492.5 345.5,520.0 348.7,547.5 352.0,551.5 355.2,550.0 358.4,517.5 361.6,549.5 364.8,540.0 368.0,533.0 371.2,537.0 374.4,600.0 377.6,592.5 380.8,628.8 384.0,549.5 387.2,587.0 390.4,535.5 393.6,516.2 396.8,530.0 400.0,524.5 403.2,535.5 406.4,530.0 409.7,521.2 412.9,525.0 416.1,518.8 419.3,517.0 422.5,485.0 425.7,421.2 428.9,418.0 432.1,415.0 435.3,408.0 438.5,409.5 441.7,418.0 444.9,405.0 448.1,412.5 451.3,413.8 454.5,390.0 457.7,384.5 460.9,395.0 464.2,411.2 467.4,405.0 470.6,385.5 473.8,382.0 477.0,319.5 480.2,321.2 483.4,304.5 486.6,311.2 489.8,323.0 493.0,310.5 496.2,315.8 499.4,314.5 502.6,317.5 505.8,320.5 509.0,288.0 512.2,295.0 515.4,282.5 518.6,255.0 521.9,238.2 525.1,279.5 528.3,275.0 531.5,263.0 534.7,259.2 537.9,263.8 541.1,273.8 544.3,294.5 547.5,311.2 550.7,303.8 553.9,295.0 557.1,293.0 560.3,297.5 563.5,305.0 566.7,335.5 569.9,308.8 573.1,295.0 576.4,294.2 579.6,251.8 582.8,251.8 586.0,267.5 589.2,294.5 592.4,291.2 595.6,297.5 598.8,296.2 602.0,284.2 605.2,305.0 608.4,303.0 611.6,305.0 614.8,318.8 618.0,330.0 621.2,341.8 624.4,297.5 627.6,288.8 630.8,279.2 634.1,282.0 637.3,281.2 640.5,278.8 643.7,269.5 646.9,282.5 650.1,295.0 653.3,265.0 656.5,258.0 659.7,272.5 662.9,271.2 666.1,261.2 669.3,270.5 672.5,264.5 675.7,243.0 678.9,197.5 682.1,185.8 685.3,186.2 688.6,172.5 691.8,166.5 695.0,183.2 698.2,176.2 701.4,171.2 704.6,182.0 707.8,183.2 711.0,188.0 714.2,187.0 717.4,165.0 720.6,175.0 723.8,179.2 727.0,185.0 730.2,182.0 733.4,169.5 736.6,181.8 739.8,182.5 743.0,183.8 746.3,202.5 749.5,224.5 752.7,230.0 755.9,215.0 759.1,208.0 762.3,216.2 765.5,205.0 768.7,186.8 771.9,193.2 775.1,195.0 778.3,170.8 781.5,175.5 784.7,163.8 787.9,136.2 791.1,177.5 794.3,186.8 797.5,186.8 800.7,186.2 804.0,196.2 807.2,227.0 810.4,215.0 813.6,231.2 816.8,192.0 820.0,205.0 823.2,221.2 826.4,252.5 829.6,237.5 832.8,241.2 836.0,231.2 839.2,268.8 842.4,265.0 845.6,269.5 848.8,257.5 852.0,242.5 855.2,238.2 858.5,247.0 861.7,248.0 864.9,251.8 868.1,245.0 871.3,235.0 874.5,239.5 877.7,217.5 880.9,203.8 884.1,198.8 887.3,199.5 890.5,203.8 893.7,205.0 896.9,192.5 900.1,195.5 903.3,190.0 906.5,202.5 909.7,202.0 912.9,207.0 916.2,227.5 919.4,235.5 922.6,223.8 925.8,263.0 929.0,256.2 932.2,257.0 935.4,235.0 938.6,214.5 941.8,216.2 945.0,176.2 948.2,157.5 951.4,145.8 954.6,143.8 957.8,135.0 961.0,125.5 964.2,152.0 967.4,137.0 970.7,150.0 973.9,205.0 977.1,246.2 980.3,207.5 983.5,206.2 986.7,226.2 989.9,247.5 993.1,269.0 996.3,285.8 999.5,277.5 1002.7,265.0 1005.9,249.2 1009.1,270.0 1012.3,276.2 1015.5,252.5 1018.7,245.0 1021.9,237.5 1025.1,212.5 1028.4,216.2 1031.6,227.0 1034.8,247.5 1038.0,270.0 1041.2,257.0 1044.4,252.5 1047.6,249.2 1050.8,285.0 1054.0,337.0 1057.2,313.2 1060.4,338.0 1063.6,320.0 1066.8,328.0 1070.0,305.0 1073.2,292.5 1076.4,320.0 1079.6,335.0 1082.9,355.0 1086.1,406.5 1089.3,398.0 1092.5,413.5 1095.7,435.5 1098.9,427.5 1102.1,442.5 1105.3,485.0 1108.5,517.5 1111.7,522.0 1114.9,500.0 1118.1,478.8 1121.3,491.2 1124.5,454.5 1127.7,446.2 1130.9,450.0 1134.1,451.2 1137.3,456.2 1140.6,502.5 1143.8,443.8 1147.0,422.0 1150.2,438.8 1153.4,468.0 1156.6,468.8 1159.8,455.0 1163.0,451.8 1166.2,430.5 1169.4,436.2 1172.6,432.0 1175.8,457.5 1179.0,458.0 1182.2,480.0 1185.4,505.0" fill="none" stroke="#1c1c1c" stroke-width="1" stroke-linejoin="round"/>
<rect x="45.3" y="638" width="17.8" height="29.8" fill="#189a67"/>
<text class="yl" x="54.2" y="660" text-anchor="middle" style="fill:#fff">0</text>
<rect x="1199.4" y="487.8" width="56.2" height="30.1" fill="#17161a"/>
<text class="yl" x="1204.2" y="509.4" style="fill:#fff" textLength="47.2" lengthAdjust="spacingAndGlyphs">$86.1K</text>
<text class="ft" x="1248" y="702" text-anchor="end" textLength="160" lengthAdjust="spacingAndGlyphs">© CryptoQuant. All rights reserved</text>
</svg>
</body></html>
